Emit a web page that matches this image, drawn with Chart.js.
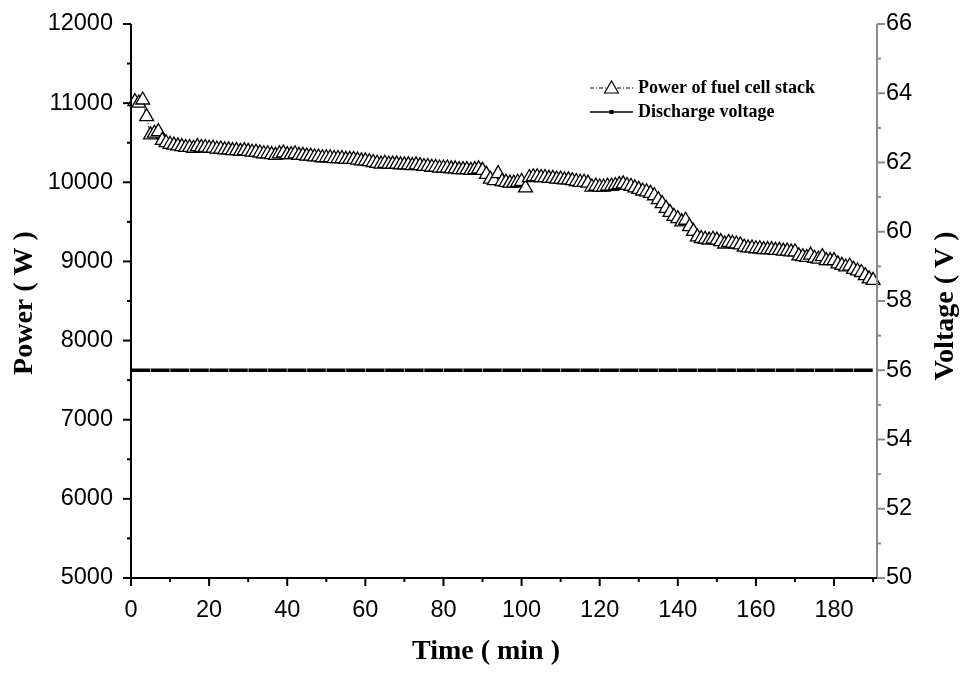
<!DOCTYPE html>
<html>
<head>
<meta charset="utf-8">
<script src="https://cdn.jsdelivr.net/npm/chart.js@4/dist/chart.umd.min.js"></script>
<style>
  body { margin: 0; background: #fff; }
  #wrap { width: 963px; height: 673px; }
</style>
</head>
<body>
<div id="wrap"><canvas id="fuelChart" width="963" height="673"></canvas></div>
<script>
// time (min) of each power sample
const powerTimes = [
  1, 2, 3, 4, 5, 6, 7, 8, 9, 10, 11, 12, 13, 14, 15, 16, 17, 18, 19, 20,
  21, 22, 23, 24, 25, 26, 27, 28, 29, 30, 31, 32, 33, 34, 35, 36, 37, 38, 39, 40,
  41, 42, 43, 44, 45, 46, 47, 48, 49, 50, 51, 52, 53, 54, 55, 56, 57, 58, 59, 60,
  61, 62, 63, 64, 65, 66, 67, 68, 69, 70, 71, 72, 73, 74, 75, 76, 77, 78, 79, 80,
  81, 82, 83, 84, 85, 86, 87, 88, 89, 90, 91, 92, 93, 94, 95, 96, 97, 98, 99, 100,
  101, 102, 103, 104, 105, 106, 107, 108, 109, 110, 111, 112, 113, 114, 115, 116, 117, 118, 119, 120,
  121, 122, 123, 124, 125, 126, 127, 128, 129, 130, 131, 132, 133, 134, 135, 136, 137, 138, 139, 140,
  141, 142, 143, 144, 145, 146, 147, 148, 149, 150, 151, 152, 153, 154, 155, 156, 157, 158, 159, 160,
  161, 162, 163, 164, 165, 166, 167, 168, 169, 170, 171, 172, 173, 174, 175, 176, 177, 178, 179, 180,
  181, 182, 183, 184, 185, 186, 187, 188, 189, 190
];

// power of fuel cell stack (W)
const powerValues = [
  11020, 11000, 11040, 10830, 10600, 10620, 10640, 10530, 10500, 10480,
  10470, 10460, 10450, 10440, 10440, 10430, 10450, 10440, 10440, 10430,
  10430, 10420, 10420, 10410, 10410, 10400, 10400, 10390, 10400, 10390,
  10380, 10380, 10370, 10360, 10360, 10350, 10340, 10360, 10370, 10350,
  10350, 10360, 10340, 10340, 10330, 10330, 10320, 10320, 10310, 10310,
  10310, 10300, 10300, 10300, 10290, 10290, 10290, 10280, 10270, 10270,
  10260, 10250, 10240, 10230, 10240, 10230, 10230, 10230, 10220, 10220,
  10220, 10210, 10220, 10210, 10200, 10200, 10190, 10190, 10180, 10180,
  10180, 10170, 10170, 10160, 10160, 10160, 10150, 10160, 10170, 10150,
  10100, 10040, 10020, 10110, 10010, 10000, 9990, 9990, 10000, 10010,
  9930, 10060, 10070, 10070, 10060, 10060, 10050, 10050, 10040, 10040,
  10030, 10030, 10020, 10010, 10000, 10000, 9990, 9940, 9950, 9940,
  9940, 9950, 9950, 9960, 9970, 9980, 9960, 9950, 9930, 9910,
  9890, 9880, 9860, 9830, 9780, 9730, 9670, 9620, 9570, 9540,
  9500, 9520, 9440, 9380, 9310, 9290, 9280, 9270, 9280, 9270,
  9250, 9220, 9240, 9230, 9220, 9210, 9180, 9170, 9170, 9160,
  9160, 9150, 9150, 9150, 9140, 9140, 9130, 9130, 9120, 9120,
  9070, 9060, 9050, 9080, 9040, 9030, 9060, 9010, 9010, 9010,
  8970, 8950, 8930, 8940, 8900, 8880, 8860, 8820, 8780, 8760
];

// discharge voltage (V), sampled every 5 min
const voltageTimes = [
  0, 5, 10, 15, 20, 25, 30, 35, 40, 45, 50, 55, 60, 65, 70, 75, 80, 85, 90, 95,
  100, 105, 110, 115, 120, 125, 130, 135, 140, 145, 150, 155, 160, 165, 170, 175, 180, 185, 190
];
const voltageValues = [
  56, 56, 56, 56, 56, 56, 56, 56, 56, 56, 56, 56, 56, 56, 56, 56, 56, 56, 56, 56,
  56, 56, 56, 56, 56, 56, 56, 56, 56, 56, 56, 56, 56, 56, 56, 56, 56, 56, 56
];

const seriesLabels = ['Power of fuel cell stack', 'Discharge voltage'];
const axisTitles = { x: 'Time ( min )', y: 'Power ( W )', y1: 'Voltage ( V )' };

const tickFont = { family: '"Liberation Sans", Arial, sans-serif', size: 23.5 };
const titleFont = 'bold 28px "Liberation Serif", "Times New Roman", serif';
const legendFont = 'bold 18px "Liberation Serif", "Times New Roman", serif';
const rightAxisColor = '#8a8a8a';

// axis lines, major + minor ticks, axis titles and the legend
const axesPlugin = {
  id: 'axesPlugin',
  afterDraw(chart) {
    const { ctx, chartArea: a, scales } = chart;
    const xs = scales.x, yl = scales.y, yr = scales.y1;
    ctx.save();
    ctx.lineCap = 'butt';

    const tick = (color, x0, y0, x1, y1) => {
      ctx.strokeStyle = color;
      ctx.lineWidth = 2;
      ctx.beginPath();
      ctx.moveTo(x0, y0);
      ctx.lineTo(x1, y1);
      ctx.stroke();
    };

    // left axis
    tick('#000', a.left, a.top, a.left, a.bottom + 1);
    for (let v = yl.min; v <= yl.max; v += 500) {
      const y = yl.getPixelForValue(v);
      const len = v % 1000 === 0 ? 8 : 4;
      tick('#000', a.left, y, a.left - len, y);
    }
    // right axis
    tick(rightAxisColor, a.right, a.top, a.right, a.bottom + 1);
    for (let v = yr.min; v <= yr.max; v += 1) {
      const y = yr.getPixelForValue(v);
      const len = v % 2 === 0 ? 8 : 4;
      tick(rightAxisColor, a.right, y, a.right + len, y);
    }
    // bottom axis
    tick('#000', a.left - 1, a.bottom, a.right, a.bottom);
    for (let v = 0; v <= xs.max; v += 10) {
      const x = xs.getPixelForValue(v);
      const len = v % 20 === 0 ? 8 : 4;
      tick('#000', x, a.bottom, x, a.bottom + len);
    }

    // axis titles (both vertical ones read bottom to top)
    ctx.fillStyle = '#000';
    ctx.font = titleFont;
    ctx.textAlign = 'center';
    ctx.textBaseline = 'middle';
    ctx.fillText(axisTitles.x, 486, 652);
    ctx.save();
    ctx.translate(25, 303);
    ctx.rotate(-Math.PI / 2);
    ctx.fillText(axisTitles.y, 0, 0);
    ctx.restore();
    ctx.save();
    ctx.translate(946, 306);
    ctx.rotate(-Math.PI / 2);
    ctx.fillText(axisTitles.y1, 0, 0);
    ctx.restore();

    // legend
    const lx = 590, lw = 43;
    const rows = [88, 112];
    ctx.font = legendFont;
    ctx.textAlign = 'left';

    ctx.strokeStyle = '#000';
    ctx.lineWidth = 1;
    ctx.setLineDash([4, 2, 1, 2]);
    ctx.beginPath();
    ctx.moveTo(lx, rows[0]);
    ctx.lineTo(lx + lw, rows[0]);
    ctx.stroke();
    ctx.setLineDash([]);
    const tx = lx + lw / 2, ty = rows[0] + 1, r = 8;
    ctx.lineWidth = 1.2;
    ctx.beginPath();
    ctx.moveTo(tx, ty - r);
    ctx.lineTo(tx + r * 0.866, ty + r * 0.5);
    ctx.lineTo(tx - r * 0.866, ty + r * 0.5);
    ctx.closePath();
    ctx.fillStyle = '#fff';
    ctx.fill();
    ctx.stroke();
    ctx.fillStyle = '#000';
    ctx.fillText(chart.data.datasets[0].label, lx + lw + 5, rows[0]);

    ctx.lineWidth = 1.5;
    ctx.beginPath();
    ctx.moveTo(lx, rows[1]);
    ctx.lineTo(lx + lw, rows[1]);
    ctx.stroke();
    ctx.fillRect(lx + lw / 2 - 2, rows[1] - 2, 4, 4);
    ctx.fillText(chart.data.datasets[1].label, lx + lw + 5, rows[1]);

    ctx.restore();
  }
};

// fixed box sizes, and no extra label overhang added to the chart area
const fixBox = (w, h) => (s) => {
  if (w !== null) s.width = w;
  if (h !== null) s.height = h;
  s.paddingTop = 0;
  s.paddingBottom = 0;
  s.paddingLeft = 0;
  s.paddingRight = 0;
};

const ctx = document.getElementById('fuelChart').getContext('2d');
new Chart(ctx, {
  type: 'line',
  data: {
    datasets: [
      {
        label: seriesLabels[0],
        data: powerTimes.map((t, i) => ({ x: t, y: powerValues[i] })),
        yAxisID: 'y',
        borderColor: '#000',
        borderWidth: 1,
        borderDash: [4, 2, 1, 2],
        pointStyle: 'triangle',
        pointRadius: 8,
        pointBorderWidth: 1.3,
        pointBorderColor: '#000',
        pointBackgroundColor: '#fff',
        tension: 0,
        clip: false,
        order: 1,
      },
      {
        label: seriesLabels[1],
        data: voltageTimes.map((t, i) => ({ x: t, y: voltageValues[i] })),
        yAxisID: 'y1',
        borderColor: '#000',
        borderWidth: 3.5,
        pointStyle: 'line',
        rotation: 90,
        pointRadius: 2,
        pointBorderWidth: 0.7,
        pointBorderColor: '#fff',
        tension: 0,
        order: 2,
      },
    ],
  },
  options: {
    responsive: false,
    animation: false,
    layout: { padding: { top: 24, left: 0, right: 0, bottom: 0 } },
    plugins: {
      legend: { display: false },
      tooltip: { enabled: false },
    },
    scales: {
      x: {
        type: 'linear',
        min: 0,
        max: 191,
        grid: { display: false, drawTicks: false },
        border: { display: false },
        ticks: { stepSize: 20, includeBounds: false, color: '#000', font: tickFont, padding: 18, maxRotation: 0,
                 callback: (v) => String(v) },
        afterFit: fixBox(null, 95),
      },
      y: {
        position: 'left',
        min: 5000,
        max: 12000,
        grid: { display: false, drawTicks: false },
        border: { display: false },
        ticks: { stepSize: 1000, color: '#000', font: tickFont, padding: 18, callback: (v) => String(v) },
        afterFit: fixBox(131, null),
      },
      y1: {
        position: 'right',
        min: 50,
        max: 66,
        grid: { display: false, drawTicks: false },
        border: { display: false },
        ticks: { stepSize: 2, color: '#000', font: tickFont, padding: 9, callback: (v) => String(v) },
        afterFit: fixBox(86, null),
      },
    },
  },
  plugins: [axesPlugin],
});
</script>
</body>
</html>
